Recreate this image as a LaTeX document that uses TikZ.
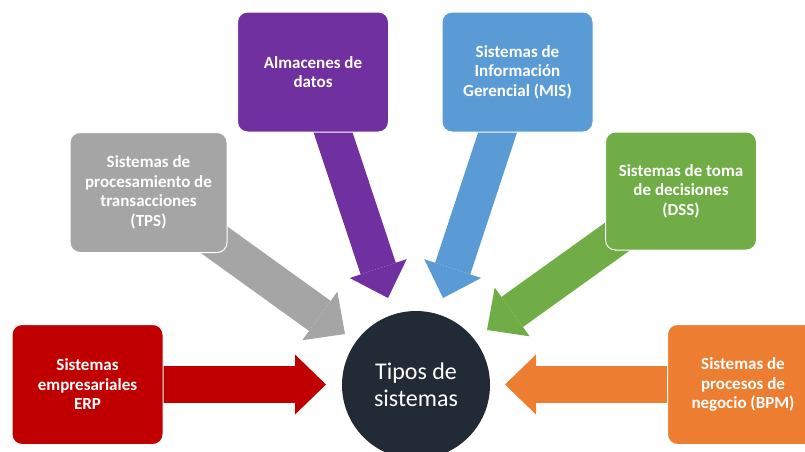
\documentclass[tikz,border=0pt]{standalone}
\usepackage{fontspec}
\setmainfont{Carlito}
\usepackage{tikz}
\usetikzlibrary{arrows.meta,backgrounds,positioning}

\definecolor{erpred}{HTML}{C00000}
\definecolor{tpsgray}{HTML}{A5A5A5}
\definecolor{dwpurple}{HTML}{7030A0}
\definecolor{misblue}{HTML}{5B9BD5}
\definecolor{dssgreen}{HTML}{70AD47}
\definecolor{bpmorange}{HTML}{ED7D31}
\definecolor{navy}{HTML}{222A35}

\begin{document}
\begin{tikzpicture}[x=1pt, y=-1pt,
			sysbox/.style={rectangle, draw=white, line width=1pt, rounded corners=10pt,
					text=white, align=center, minimum width=151pt, minimum height=120pt,
					font=\bfseries\fontsize{17}{19.5}\selectfont},
			flecha/.style={line width=37pt, -{Triangle[length=31pt, width=60pt, line width=0pt]}}]
		\clip (0,0) rectangle (805,451);

		\node (tipos) [circle, fill=navy, text=white, minimum size=148pt, align=center,
			font=\fontsize{24}{27}\selectfont] at (416,385) {Tipos de\\sistemas};

		\node (erp) [sysbox, fill=erpred] at (87.5,384.5) {Sistemas\\empresariales\\ERP};
		\node (tps) [sysbox, fill=tpsgray, minimum width=157pt] at (148.5,192.5)
		{Sistemas de\\procesamiento de\\transacciones\\(TPS)};
		\node (almacenes) [sysbox, fill=dwpurple] at (313,72) {Almacenes de\\datos};
		\node (mis) [sysbox, fill=misblue] at (517.5,72) {Sistemas de\\Información\\Gerencial (MIS)};
		\node (dss) [sysbox, fill=dssgreen, minimum height=118pt] at (681,191)
		{Sistemas de toma\\de decisiones\\(DSS)};
		\node (bpm) [sysbox, fill=bpmorange] at (743,384.5) {Sistemas de\\procesos de\\negocio (BPM)};

		% puntas de las flechas junto al circulo
		\coordinate (erptip) at (326,384.5);
		\coordinate (tpstip) at (345,334);
		\coordinate (almacenestip) at (388,298);
		\coordinate (mistip) at (443,298);
		\coordinate (dsstip) at (487,330);
		\coordinate (bpmtip) at (505,384.5);

		\begin{scope}[on background layer]
			\draw [flecha, erpred] (erp.center) -- (erptip);
			\draw [flecha, tpsgray] (tps.center) -- (tpstip);
			\draw [flecha, dwpurple] (almacenes.center) -- (almacenestip);
			\draw [flecha, misblue] (mis.center) -- (mistip);
			\draw [flecha, dssgreen] (dss.center) -- (dsstip);
			\draw [flecha, bpmorange] (bpm.center) -- (bpmtip);
		\end{scope}
	\end{tikzpicture}
\end{document}
